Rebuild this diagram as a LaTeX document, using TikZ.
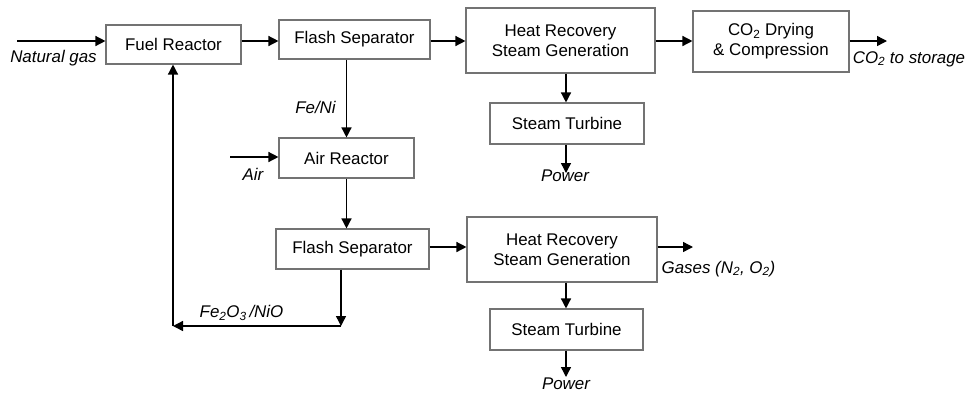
\documentclass[tikz,border=0pt]{standalone}
\usepackage{fontspec}
\setmainfont{Liberation Sans}
\usetikzlibrary{arrows.meta}
\begin{document}
\begin{tikzpicture}[x=1pt,y=-1pt,
  box/.style={draw=black!55,line width=1.1pt,rectangle,inner sep=0pt,align=center,
    font=\fontsize{16.9}{20}\selectfont},
  lbl/.style={inner sep=0pt,font=\fontsize{16.9}{20}\selectfont\itshape},
  arr/.style={line width=1.4pt,-{Triangle[length=10pt,width=10pt]}},
  ln/.style={line width=1.4pt}]
\useasboundingbox (0,0) rectangle (972,392);
% boxes
\node[box,minimum width=135pt,minimum height=39pt] (FR) at (173.5,44.5) {Fuel Reactor};
\node[box,minimum width=151pt,minimum height=39pt] (FS1) at (354.5,39.5) {Flash Separator};
\node[box,minimum width=189pt,minimum height=65pt] (HR1) at (560.5,40.5) {Heat Recovery\\Steam Generation};
\node[box,minimum width=156pt,minimum height=61pt] (CO) at (771,41.5) {CO\textsubscript{2} Drying\\\& Compression};
\node[box,minimum width=154pt,minimum height=41pt] (ST1) at (567,123.5) {Steam Turbine};
\node[box,minimum width=135pt,minimum height=40pt] (AR) at (346.5,158) {Air Reactor};
\node[box,minimum width=153pt,minimum height=40pt] (FS2) at (352.5,249) {Flash Separator};
\node[box,minimum width=190pt,minimum height=65pt] (HR2) at (562,249.5) {Heat Recovery\\Steam Generation};
\node[box,minimum width=153pt,minimum height=41pt] (ST2) at (566.5,329.5) {Steam Turbine};
% free ends
\coordinate (ng) at (17,41);
\coordinate (airin) at (230,157);
\coordinate (out1) at (887,41);
\coordinate (out2) at (693,247);
\coordinate (pw1) at (566,173);
\coordinate (pw2) at (566,377);
\coordinate (c1) at (341,326);
\coordinate (c2) at (173,326);
% connectors
\draw[arr] (ng) -- (ng -| FR.west);
\draw[arr] (FR.east |- ng) -- (FS1.west |- ng);
\draw[arr] (FS1.east |- ng) -- (HR1.west |- ng);
\draw[arr] (HR1.east |- ng) -- (CO.west |- ng);
\draw[arr] (CO.east |- ng) -- (out1);
\draw[arr] (AR.north |- FS1.south) -- (AR.north);
\draw[arr] (airin) -- (airin -| AR.west);
\draw[arr] (AR.south) -- (AR.south |- FS2.north);
\draw[arr] (FS2.east |- out2) -- (HR2.west |- out2);
\draw[arr] (HR2.east |- out2) -- (out2);
\draw[arr] (pw1 |- HR1.south) -- (pw1 |- ST1.north);
\draw[arr] (pw1 |- ST1.south) -- (pw1);
\draw[arr] (pw2 |- HR2.south) -- (pw2 |- ST2.north);
\draw[arr] (pw2 |- ST2.south) -- (pw2);
\draw[arr] (c1 |- FS2.south) -- (c1);
\draw[arr] (c1) -- (c2);
\draw[arr] (c2) -- (c2 |- FR.south);
% labels
\node[lbl] (lng) at (53.5,58) {Natural gas};
\node[lbl] (lfe) at (315.5,107) {Fe/Ni};
\node[lbl] (lair) at (253,174) {Air};
\node[lbl] (lfeo) at (241.5,313) {Fe\textsubscript{2}O\textsubscript{3}\,/NiO};
\node[lbl] (lco) at (909,59) {CO\textsubscript{2} to storage};
\node[lbl] (lgas) at (718.5,269) {Gases (N\textsubscript{2}, O\textsubscript{2})};
\node[lbl] (lp1) at (565,176) {Power};
\node[lbl] (lp2) at (566,384) {Power};
\end{tikzpicture}
\end{document}
